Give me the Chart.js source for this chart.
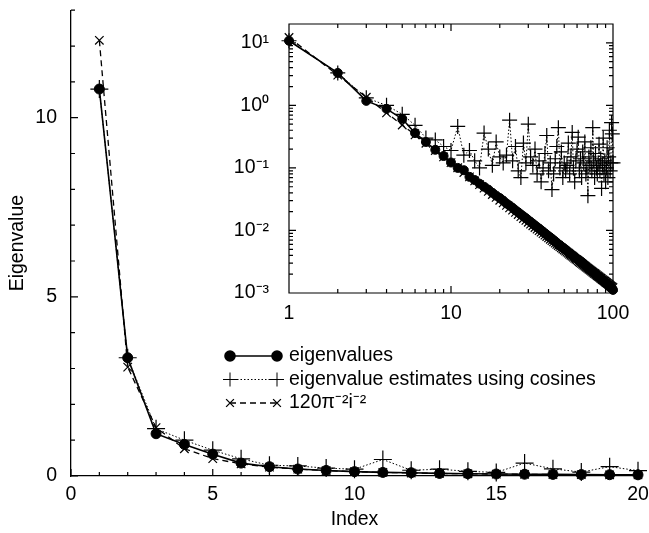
<!DOCTYPE html>
<html>
<head>
<meta charset="utf-8">
<script src="https://cdn.jsdelivr.net/npm/chart.js@4.4.1/dist/chart.umd.min.js"></script>
<style>
  html, body { margin: 0; padding: 0; background: #fff; }
  #wrap { position: relative; width: 649px; height: 533px; }
  #mainChart { position: absolute; left: 0; top: 0; }
  #insetChart { position: absolute; left: 230px; top: 10px; }
</style>
</head>
<body>
<div id="wrap">
  <canvas id="mainChart" width="649" height="533"></canvas>
  <canvas id="insetChart" width="419" height="320"></canvas>
</div>
<script>
// index i = 1..100
const indices = Array.from({ length: 100 }, (_, k) => k + 1);

// eigenvalues (filled circles, solid line)
const eigenvalues = [
  10.8, 3.3, 1.18, 0.88, 0.61, 0.36, 0.26, 0.195, 0.155, 0.122,
  0.100, 0.092, 0.072, 0.064, 0.056, 0.050, 0.045, 0.040, 0.036, 0.033,
  0.030, 0.027, 0.025, 0.023, 0.021, 0.0195, 0.018, 0.0168, 0.0157, 0.0146,
  0.0137, 0.0128, 0.0120, 0.0113, 0.0107, 0.0101, 0.0095, 0.0090, 0.0085, 0.0081,
  0.0077, 0.0073, 0.0070, 0.0066, 0.0063, 0.0060, 0.0058, 0.0055, 0.0053, 0.0051,
  0.0049, 0.0047, 0.0045, 0.0043, 0.0042, 0.0040, 0.0039, 0.0037, 0.0036, 0.0035,
  0.0034, 0.0033, 0.0032, 0.0031, 0.0030, 0.0029, 0.0028, 0.0027, 0.0026, 0.0025,
  0.00245, 0.00238, 0.00231, 0.00224, 0.00218, 0.00212, 0.00206, 0.00200, 0.00195, 0.00190,
  0.00185, 0.00180, 0.00175, 0.00170, 0.00166, 0.00162, 0.00158, 0.00154, 0.00150, 0.00146,
  0.00142, 0.00139, 0.00135, 0.00132, 0.00128, 0.00125, 0.00122, 0.00119, 0.00116, 0.00112
];

// eigenvalue estimates using cosines (plus, dotted line)
const cosineEstimates = [
  10.8, 3.3, 1.32, 1.0, 0.72, 0.48, 0.30, 0.28, 0.22, 0.19,
  0.46, 0.16, 0.19, 0.13, 0.10, 0.36, 0.20, 0.11, 0.26, 0.15,
  0.12, 0.16, 0.58, 0.13, 0.22, 0.09, 0.07, 0.25, 0.12, 0.50,
  0.15, 0.11, 0.20, 0.08, 0.13, 0.06, 0.10, 0.17, 0.33, 0.09,
  0.12, 0.045, 0.08, 0.14, 0.22, 0.44, 0.10, 0.18, 0.07, 0.12,
  0.09, 0.11, 0.25, 0.08, 0.15, 0.37, 0.10, 0.06, 0.13, 0.20,
  0.31, 0.09, 0.14, 0.07, 0.18, 0.12, 0.26, 0.08, 0.10, 0.036,
  0.15, 0.11, 0.21, 0.09, 0.44, 0.13, 0.07, 0.17, 0.10, 0.08,
  0.12, 0.24, 0.09, 0.14, 0.047, 0.11, 0.30, 0.08, 0.13, 0.06,
  0.10, 0.21, 0.07, 0.15, 0.40, 0.09, 0.12, 0.53, 0.35, 0.12
];

// 120 pi^-2 i^-2 (cross, dashed line)
const inverseSquare = [
  12.16, 3.040, 1.351, 0.760, 0.486, 0.338, 0.248, 0.190, 0.150, 0.1216,
  0.1005, 0.0844, 0.0719, 0.0620, 0.0540, 0.0475, 0.0421, 0.0375, 0.0337, 0.0304,
  0.02757, 0.02512, 0.02298, 0.02111, 0.01945, 0.01799, 0.01668, 0.01551, 0.01446, 0.01351,
  0.01265, 0.01187, 0.01116, 0.01052, 0.00993, 0.00938, 0.00888, 0.00842, 0.00799, 0.00760,
  0.00723, 0.00689, 0.00658, 0.00628, 0.00600, 0.00575, 0.00550, 0.00528, 0.00506, 0.00486,
  0.00467, 0.00450, 0.00433, 0.00417, 0.00402, 0.00388, 0.00374, 0.00361, 0.00349, 0.00338,
  0.00327, 0.00316, 0.00306, 0.00297, 0.00288, 0.00279, 0.00271, 0.00263, 0.00255, 0.00248,
  0.00241, 0.00235, 0.00228, 0.00222, 0.00216, 0.00210, 0.00205, 0.00200, 0.00195, 0.00190,
  0.00185, 0.00181, 0.00176, 0.00172, 0.00168, 0.00164, 0.00161, 0.00157, 0.00154, 0.00150,
  0.00147, 0.00144, 0.00141, 0.00138, 0.00135, 0.00132, 0.00129, 0.00126, 0.00124, 0.00122
];

const seriesLabels = ['eigenvalues', 'eigenvalue estimates using cosines', '120\u03C0\u207B\u00B2i\u207B\u00B2'];

// tick labels
const mainXTicks = [0, 5, 10, 15, 20];
const mainYTicks = [0, 5, 10];
const insetXTicks = [1, 10, 100];
const insetYTicks = [0.001, 0.01, 0.1, 1, 10];
const insetYTickLabels = ['10\u207B\u00B3', '10\u207B\u00B2', '10\u207B\u00B9', '10\u2070', '10\u00B9'];

const FONT = "'Liberation Sans', Arial, Helvetica, sans-serif";
Chart.defaults.font.family = FONT;
Chart.defaults.color = '#000';

function pts(values, n) {
  return indices.slice(0, n).map((x, k) => ({ x: x, y: values[k] }));
}

function makeDatasets(n, sizes) {
  return [
    {
      label: seriesLabels[0], data: pts(eigenvalues, n),
      borderColor: '#000', backgroundColor: '#000', borderWidth: 1.6,
      pointStyle: 'circle', pointRadius: sizes[0], pointBorderWidth: 1,
      pointBackgroundColor: '#000', pointBorderColor: '#000', clip: false
    },
    {
      label: seriesLabels[1], data: pts(cosineEstimates, n),
      borderColor: '#000', borderWidth: 1, borderDash: [1.5, 2],
      pointStyle: 'cross', pointRadius: sizes[1], pointBorderWidth: 1.2,
      pointBorderColor: '#000', clip: false
    },
    {
      label: seriesLabels[2], data: pts(inverseSquare, n),
      borderColor: '#000', borderWidth: 1.3, borderDash: [6, 4],
      pointStyle: 'crossRot', pointRadius: sizes[2], pointBorderWidth: 1.2,
      pointBorderColor: '#000', clip: false
    }
  ];
}

// inward tick marks (and optional frame)
const tickMarks = {
  id: 'tickMarks',
  afterDraw(chart, args, opts) {
    const ctx = chart.ctx;
    const a = chart.chartArea;
    const xs = chart.scales.x, ys = chart.scales.y;
    ctx.save();
    ctx.strokeStyle = '#000';
    ctx.lineWidth = opts.lineWidth;
    ctx.beginPath();
    if (opts.box) {
      ctx.rect(a.left, a.top, a.right - a.left, a.bottom - a.top);
    }
    const xMark = (v, len) => {
      const px = xs.getPixelForValue(v);
      ctx.moveTo(px, a.bottom); ctx.lineTo(px, a.bottom - len);
      if (opts.box) { ctx.moveTo(px, a.top); ctx.lineTo(px, a.top + len); }
    };
    const yMark = (v, len) => {
      const py = ys.getPixelForValue(v);
      ctx.moveTo(a.left, py); ctx.lineTo(a.left + len, py);
      if (opts.box) { ctx.moveTo(a.right, py); ctx.lineTo(a.right - len, py); }
    };
    opts.xMinor.forEach(v => xMark(v, opts.minorLen));
    opts.xMajor.forEach(v => xMark(v, opts.majorLen));
    opts.yMinor.forEach(v => yMark(v, opts.minorLen));
    opts.yMajor.forEach(v => yMark(v, opts.majorLen));
    ctx.stroke();
    ctx.restore();
  }
};

// legend with a marker at each end of the line sample
const lineLegend = {
  id: 'lineLegend',
  afterDraw(chart, args, opts) {
    const ctx = chart.ctx;
    chart.data.datasets.forEach((ds, k) => {
      const y = opts.top + k * opts.rowGap;
      const x1 = opts.left, x2 = opts.left + opts.lineLength;
      ctx.save();
      ctx.strokeStyle = '#000';
      ctx.fillStyle = '#000';
      ctx.lineWidth = ds.borderWidth;
      ctx.setLineDash(ds.borderDash || []);
      ctx.beginPath(); ctx.moveTo(x1, y); ctx.lineTo(x2, y); ctx.stroke();
      ctx.setLineDash([]);
      const p = { pointStyle: ds.pointStyle, radius: opts.markerRadius[k], borderWidth: 1.2, rotation: 0 };
      Chart.helpers.drawPoint(ctx, p, x1, y);
      Chart.helpers.drawPoint(ctx, p, x2, y);
      ctx.font = opts.font;
      ctx.textBaseline = 'middle';
      ctx.textAlign = 'left';
      ctx.fillText(ds.label, x2 + opts.textGap, y);
      ctx.restore();
    });
  }
};

const intRange = (a, b) => { const r = []; for (let v = a; v <= b; v++) r.push(v); return r; };

// fixed axis sizes, no extra label padding
const fixX = h => s => { s.height = h; s.paddingLeft = 0; s.paddingRight = 0; };
const fixY = w => s => { s.width = w; s.paddingTop = 0; s.paddingBottom = 0; };

new Chart(document.getElementById('mainChart'), {
  type: 'line',
  data: { datasets: makeDatasets(20, [5, 9, 6]) },
  plugins: [tickMarks, lineLegend],
  options: {
    responsive: false,
    animation: false,
    layout: { padding: { left: 0, right: 11, top: 5, bottom: 0 } },
    plugins: {
      legend: { display: false },
      tooltip: { enabled: false },
      tickMarks: {
        box: false, lineWidth: 1.2, majorLen: 7, minorLen: 4,
        xMajor: mainXTicks, xMinor: intRange(0, 20),
        yMajor: mainYTicks, yMinor: intRange(0, 13)
      },
      lineLegend: {
        left: 230, top: 356, rowGap: 23.5, lineLength: 47, textGap: 12,
        markerRadius: [5, 7, 5.5], font: "19.5px " + FONT
      }
    },
    scales: {
      x: {
        type: 'linear', min: 0, max: 20,
        afterBuildTicks: s => { s.ticks = mainXTicks.map(v => ({ value: v })); },
        afterFit: fixX(57),
        grid: { display: false, drawTicks: false },
        border: { display: true, color: '#000', width: 1.3 },
        ticks: { font: { size: 19.5 }, padding: 7, maxRotation: 0 },
        title: { display: true, text: 'Index', font: { size: 19.5 }, padding: { top: 0, bottom: 2 } }
      },
      y: {
        type: 'linear', min: 0, max: 13,
        afterBuildTicks: s => { s.ticks = mainYTicks.map(v => ({ value: v })); },
        afterFit: fixY(71),
        grid: { display: false, drawTicks: false },
        border: { display: true, color: '#000', width: 1.3 },
        ticks: { font: { size: 19.5 }, padding: 14 },
        title: { display: true, text: 'Eigenvalue', font: { size: 19.5 }, padding: { top: 6, bottom: 0 } }
      }
    }
  }
});

// log minor tick positions
const logMinor = (lo, hi) => {
  const r = [];
  for (let d = lo; d < hi; d *= 10) for (let m = 2; m <= 9; m++) if (d * m <= hi) r.push(d * m);
  return r;
};

new Chart(document.getElementById('insetChart'), {
  type: 'line',
  data: { datasets: makeDatasets(100, [4.5, 7.5, 6]) },
  plugins: [tickMarks],
  options: {
    responsive: false,
    animation: false,
    layout: { padding: { left: 0, right: 36, top: 14, bottom: 0 } },
    plugins: {
      legend: { display: false },
      tooltip: { enabled: false },
      tickMarks: {
        box: true, lineWidth: 1.2, majorLen: 7, minorLen: 4,
        xMajor: insetXTicks, xMinor: logMinor(1, 100),
        yMajor: insetYTicks, yMinor: logMinor(0.001, 20)
      }
    },
    scales: {
      x: {
        type: 'logarithmic', min: 1, max: 100,
        afterBuildTicks: s => { s.ticks = insetXTicks.map(v => ({ value: v })); },
        afterFit: fixX(37),
        grid: { display: false, drawTicks: false },
        border: { display: false },
        ticks: { font: { size: 19.5 }, padding: 9, maxRotation: 0, callback: v => String(v) }
      },
      y: {
        type: 'logarithmic', min: 0.001, max: 20,
        afterBuildTicks: s => { s.ticks = insetYTicks.map(v => ({ value: v })); },
        afterFit: fixY(59),
        grid: { display: false, drawTicks: false },
        border: { display: false },
        ticks: { font: { size: 19.5 }, padding: 20, callback: v => insetYTickLabels[insetYTicks.indexOf(v)] }
      }
    }
  }
});
</script>
</body>
</html>
